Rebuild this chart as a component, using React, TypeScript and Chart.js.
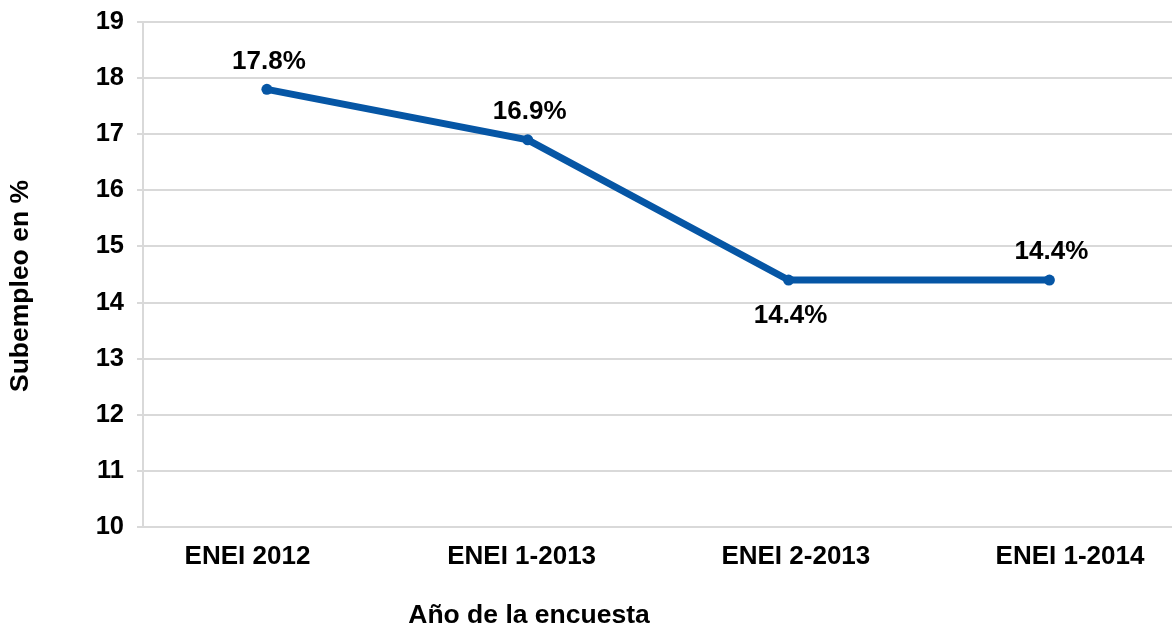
import React, { useEffect, useRef } from 'react';
import { Chart, registerables } from 'chart.js';

Chart.register(...registerables);

// ---- data ----
const categories: string[] = ['ENEI 2012', 'ENEI 1-2013', 'ENEI 2-2013', 'ENEI 1-2014'];
const subempleo: number[] = [17.8, 16.9, 14.4, 14.4];
const labelPlacement: string[] = ['above', 'above', 'below', 'above'];
const yMin = 10;
const yMax = 19;
const yStep = 1;
const xTitle = 'Año de la encuesta';
const yTitle = 'Subempleo en %';

// ---- style ----
const FAMILY = "'Liberation Sans', Arial, Helvetica, sans-serif";
const BLUE = '#0656A5';
const GRID = '#D9D9D9';
const TEXT = '#000000';
const W = 1172;
const H = 633;

const labelsPlugin = {
  id: 'valueLabels',
  afterDatasetsDraw(chart: any) {
    const ctx = chart.ctx;
    const meta = chart.getDatasetMeta(0);
    ctx.save();
    ctx.font = `bold 26px ${FAMILY}`;
    ctx.fillStyle = TEXT;
    ctx.textAlign = 'center';
    ctx.textBaseline = 'middle';
    meta.data.forEach((pt: any, i: number) => {
      const below = labelPlacement[i] === 'below';
      const dy = below ? 36 : -28;
      ctx.fillText(subempleo[i].toFixed(1) + '%', pt.x + 2, pt.y + dy);
    });
    ctx.restore();
  },
};

const axisTitlesPlugin = {
  id: 'axisTitles',
  afterDraw(chart: any) {
    const ctx = chart.ctx;
    ctx.save();
    ctx.font = `bold 26.5px ${FAMILY}`;
    ctx.fillStyle = TEXT;
    ctx.textAlign = 'center';
    ctx.textBaseline = 'middle';
    ctx.save();
    ctx.translate(21, 286);
    ctx.rotate(-Math.PI / 2);
    ctx.fillText(yTitle, 0, 0);
    ctx.restore();
    ctx.fillText(xTitle, 529, 616);
    ctx.restore();
  },
};

const zeroPad = (s: any) => {
  s.paddingTop = 0;
  s.paddingBottom = 0;
  s.paddingLeft = 0;
  s.paddingRight = 0;
};

export default function App() {
  const ref = useRef<HTMLCanvasElement | null>(null);

  useEffect(() => {
    if (!ref.current) return;
    const xFont = { family: FAMILY, size: 26, weight: 'bold' as const };
    const yFont = { family: FAMILY, size: 25.5, weight: 'bold' as const };
    const chart = new Chart(ref.current, {
      type: 'line',
      data: {
        datasets: [
          {
            xAxisID: 'x',
            yAxisID: 'y',
            data: subempleo.map((v, i) => ({ x: i, y: v })),
            borderColor: BLUE,
            backgroundColor: BLUE,
            borderWidth: 7,
            pointRadius: 5.5,
            pointBorderWidth: 0,
            pointBackgroundColor: BLUE,
            tension: 0,
            clip: false as any,
          },
        ],
      },
      options: {
        responsive: false,
        animation: false,
        layout: { autoPadding: false, padding: { left: 0, top: 22, right: 0, bottom: 0 } },
        plugins: {
          legend: { display: false },
          tooltip: { enabled: false },
        },
        scales: {
          // scale that positions the points
          x: {
            type: 'linear',
            display: false,
            min: -0.475,
            max: 3.47,
          },
          // category label axis (labels sit slightly wider apart than the points)
          xLabels: {
            type: 'linear',
            position: 'bottom',
            min: -0.381,
            max: 3.372,
            grid: { display: false, drawTicks: false },
            border: { display: false },
            afterBuildTicks: (s: any) => {
              s.ticks = categories.map((_, i) => ({ value: i }));
            },
            afterFit: (s: any) => {
              s.height = 106;
              zeroPad(s);
            },
            ticks: {
              autoSkip: false,
              maxRotation: 0,
              padding: 14,
              color: TEXT,
              font: xFont,
              callback: (v: any) => categories[v as number] ?? '',
            },
          },
          y: {
            min: yMin,
            max: yMax,
            afterFit: (s: any) => {
              s.width = 143;
              zeroPad(s);
            },
            grid: { color: GRID, lineWidth: 2, tickLength: 6 },
            border: { color: GRID, width: 2 },
            ticks: { stepSize: yStep, padding: 13, color: TEXT, font: yFont },
          },
        },
      },
      plugins: [labelsPlugin, axisTitlesPlugin],
    });
    return () => chart.destroy();
  }, []);

  return (
    <div
      style={{
        position: 'fixed',
        left: 0,
        top: 0,
        width: W,
        height: H,
        background: '#ffffff',
        overflow: 'hidden',
      }}
    >
      <canvas ref={ref} width={W} height={H} style={{ display: 'block' }} />
    </div>
  );
}
